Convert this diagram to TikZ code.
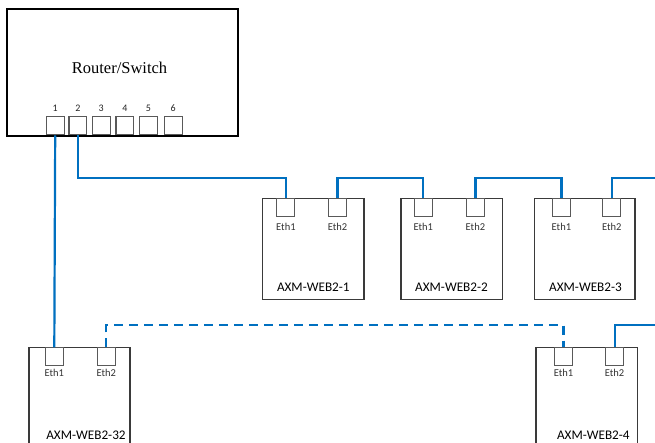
\documentclass[tikz,border=0pt]{standalone}
\usepackage{fontspec}
\setmainfont{Liberation Serif}
\newfontfamily\calib{Carlito}
\usetikzlibrary{positioning}
\definecolor{wireblue}{HTML}{0070C0}
\definecolor{boxgray}{HTML}{3A3A3A}
\definecolor{portgray}{HTML}{595959}
\tikzset{
  wire/.style={draw=wireblue, line width=2.2pt},
  devbox/.style={draw=boxgray, line width=1.4pt, rectangle, inner sep=0pt},
  portbox/.style={draw=portgray, line width=1.1pt, rectangle, inner sep=0pt, minimum width=18pt, minimum height=17.7pt, fill=white},
  rport/.style={draw=portgray, line width=1.1pt, rectangle, inner sep=0pt, minimum width=17.8pt, minimum height=18pt, fill=white},
  ethlbl/.style={font=\calib\fontsize{10.5}{12}\selectfont, text=black!80, inner sep=0pt},
  devlbl/.style={font=\calib\fontsize{13.2}{15}\selectfont, inner sep=0pt},
  numlbl/.style={font=\calib\fontsize{10}{12}\selectfont, text=black!85, inner sep=0pt},
}
\begin{document}
\begin{tikzpicture}[x=1pt,y=-1pt]
\useasboundingbox (0,0) rectangle (655,443);
\clip (0,0) rectangle (655,443);
\fill[white] (0,0) rectangle (655,443);
\coordinate (yA) at (0,178);
\coordinate (yB) at (0,325);
\coordinate (rightA) at (660,178);
\coordinate (rightB) at (660,325);

% router
\node[draw=black, line width=2pt, rectangle, inner sep=0pt, minimum width=231pt, minimum height=127pt] (router) at (122.5,72.5) {};
\node[font=\fontsize{16.5}{19}\selectfont, inner sep=0pt] (rtitle) at (119.5,68) {Router/Switch};
\foreach \i/\x in {1/55.2,2/77.9,3/101.2,4/124.9,5/148.5,6/173.2}{
  \node[rport, anchor=south] (r\i) at (\x,135.5) {};
  \node[numlbl] (n\i) at (\x,108.5) {\i};
}

% devices top row
\node[devbox, minimum width=101.7pt, minimum height=101pt] (d1) at (313.2,248.8) {};
\node[devbox, minimum width=101.3pt, minimum height=101pt] (d2) at (451.7,248.8) {};
\node[devbox, minimum width=100.7pt, minimum height=101pt] (d3) at (584.7,248.8) {};
% bottom row
\node[devbox, minimum width=101pt, minimum height=120pt] (d32) at (79.5,407.3) {};
\node[devbox, minimum width=101.3pt, minimum height=120pt] (d4) at (586.7,407.3) {};

% ports
\node[portbox, anchor=north] (d1e1) at (285.9,198.3) {};
\node[portbox, anchor=north] (d1e2) at (337.5,198.3) {};
\node[portbox, anchor=north] (d2e1) at (423.3,198.3) {};
\node[portbox, anchor=north] (d2e2) at (475.4,198.3) {};
\node[portbox, anchor=north] (d3e1) at (561.4,198.3) {};
\node[portbox, anchor=north] (d3e2) at (611.7,198.3) {};
\node[portbox, anchor=north] (d32e1) at (54.3,347.3) {};
\node[portbox, anchor=north] (d32e2) at (106.3,347.3) {};
\node[portbox, anchor=north] (d4e1) at (563.5,347.3) {};
\node[portbox, anchor=north] (d4e2) at (614.6,347.3) {};

% port labels
\foreach \p in {d1,d2,d3}{
  \node[ethlbl] (\p l1) at ([yshift=-9.5pt]\p e1.south) {Eth1};
  \node[ethlbl] (\p l2) at ([yshift=-9.5pt]\p e2.south) {Eth2};
}
\foreach \p in {d32,d4}{
  \node[ethlbl] (\p l1) at ([yshift=-7pt]\p e1.south) {Eth1};
  \node[ethlbl] (\p l2) at ([yshift=-7pt]\p e2.south) {Eth2};
}

% device labels
\node[devlbl] (t1) at (313.3,287) {AXM-WEB2-1};
\node[devlbl] (t2) at (451.5,287) {AXM-WEB2-2};
\node[devlbl] (t3) at (585.5,287) {AXM-WEB2-3};
\node[devlbl] (t32) at (86,435) {AXM-WEB2-32};
\node[devlbl] (t4) at (593.3,435) {AXM-WEB2-4};

% wires
\draw[wire] (r1.south) -- (d32e1.north);
\draw[wire] (r2.south) -- (r2.south |- yA) -| (d1e1.north);
\draw[wire] (d1e2.north) -- (d1e2.north |- yA) -| (d2e1.north);
\draw[wire] (d2e2.north) -- (d2e2.north |- yA) -| (d3e1.north);
\draw[wire] (d3e2.north) |- (rightA);
\draw[wire, dash pattern=on 9pt off 6pt] (d32e2.north) -- (d32e2.north |- yB) -| (d4e1.north);
\draw[wire] (d4e2.north) |- (rightB);
\end{tikzpicture}
\end{document}
